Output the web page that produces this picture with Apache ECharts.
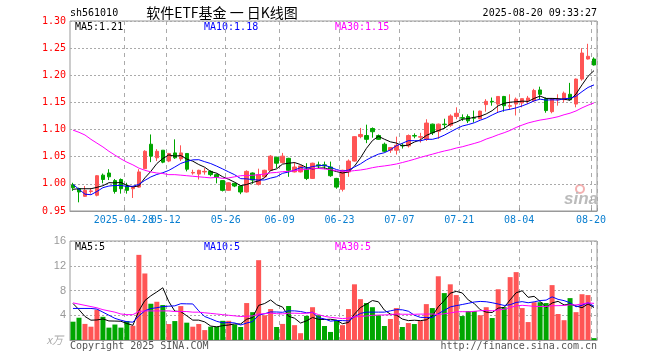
<!DOCTYPE html>
<html><head><meta charset="utf-8">
<script src="https://cdn.jsdelivr.net/npm/echarts@6/dist/echarts.min.js"></script>
<style>html,body{margin:0;padding:0;background:#fff}#c{width:660px;height:360px}</style>
</head><body><div id="c"></div>
<script>
const dates = ['2025-04-15','2025-04-16','2025-04-17','2025-04-18','2025-04-21','2025-04-22','2025-04-23','2025-04-24','2025-04-25','2025-04-28','2025-04-29','2025-04-30',
'2025-05-06','2025-05-07','2025-05-08','2025-05-09','2025-05-12','2025-05-13','2025-05-14','2025-05-15','2025-05-16','2025-05-19','2025-05-20','2025-05-21','2025-05-22','2025-05-23','2025-05-26','2025-05-27','2025-05-28','2025-05-29','2025-05-30',
'2025-06-03','2025-06-04','2025-06-05','2025-06-06','2025-06-09','2025-06-10','2025-06-11','2025-06-12','2025-06-13','2025-06-16','2025-06-17','2025-06-18','2025-06-19','2025-06-20','2025-06-23','2025-06-24','2025-06-25','2025-06-26','2025-06-27','2025-06-30',
'2025-07-01','2025-07-02','2025-07-03','2025-07-04','2025-07-07','2025-07-08','2025-07-09','2025-07-10','2025-07-11','2025-07-14','2025-07-15','2025-07-16','2025-07-17','2025-07-18','2025-07-21','2025-07-22','2025-07-23','2025-07-24','2025-07-25','2025-07-28','2025-07-29','2025-07-30','2025-07-31',
'2025-08-01','2025-08-04','2025-08-05','2025-08-06','2025-08-07','2025-08-08','2025-08-11','2025-08-12','2025-08-13','2025-08-14','2025-08-15','2025-08-18','2025-08-19','2025-08-20'];

const openP = [0.998,0.991,0.977,0.986,0.979,1.016,1.020,1.006,1.008,0.996,
0.991,0.994,1.028,1.073,1.048,1.062,1.042,1.057,1.046,1.056,
1.020,1.018,1.022,1.023,1.017,1.006,0.988,1.001,0.996,0.985,
1.020,0.999,1.013,1.025,1.049,1.039,1.047,1.022,1.022,1.027,
1.010,1.035,1.035,1.031,1.010,0.990,1.022,1.042,1.087,1.089,
1.102,1.089,1.073,1.062,1.062,1.071,1.070,1.089,1.086,1.082,
1.110,1.097,1.110,1.108,1.124,1.122,1.124,1.122,1.120,1.146,
1.152,1.147,1.161,1.143,1.147,1.149,1.153,1.153,1.173,1.157,
1.133,1.155,1.155,1.165,1.147,1.193,1.230,1.230];
const closeP = [0.993,0.985,0.988,0.987,1.015,1.008,1.013,0.986,0.991,0.988,
0.994,1.022,1.060,1.051,1.060,1.040,1.056,1.048,1.057,1.027,
1.021,1.025,1.023,1.017,1.012,0.988,1.002,0.996,0.985,1.023,
1.007,1.017,1.025,1.051,1.038,1.051,1.025,1.031,1.033,1.010,
1.038,1.033,1.033,1.015,0.994,1.025,1.042,1.087,1.091,1.082,
1.096,1.082,1.060,1.067,1.071,1.070,1.089,1.088,1.087,1.112,
1.094,1.110,1.109,1.125,1.130,1.121,1.116,1.121,1.134,1.152,
1.151,1.161,1.144,1.144,1.156,1.157,1.158,1.172,1.165,1.135,
1.157,1.156,1.167,1.155,1.193,1.241,1.235,1.219];
const lowP = [0.987,0.966,0.976,0.982,0.977,1.001,1.007,0.982,0.982,0.982,
0.974,0.993,1.027,1.040,1.042,1.038,1.040,1.046,1.042,1.023,
1.017,1.008,1.017,1.014,1.001,0.986,0.987,0.994,0.981,0.984,
1.000,0.997,1.012,1.024,1.029,1.038,1.013,1.021,1.021,1.007,
1.009,1.029,1.027,1.013,0.991,0.986,1.013,1.041,1.084,1.075,
1.085,1.081,1.058,1.057,1.054,1.065,1.067,1.084,1.076,1.079,
1.090,1.083,1.102,1.105,1.119,1.116,1.112,1.113,1.119,1.133,
1.144,1.131,1.133,1.138,1.126,1.141,1.147,1.151,1.156,1.131,
1.130,1.144,1.150,1.155,1.141,1.190,1.229,1.218];
const highP = [1.002,0.993,0.996,0.992,1.016,1.019,1.027,1.009,1.010,1.002,
0.995,1.027,1.062,1.091,1.064,1.062,1.057,1.082,1.071,1.056,
1.026,1.026,1.029,1.025,1.019,1.007,1.003,1.002,0.997,1.025,
1.021,1.028,1.026,1.053,1.050,1.057,1.048,1.040,1.034,1.038,
1.039,1.041,1.041,1.041,1.011,1.026,1.045,1.088,1.103,1.109,
1.104,1.091,1.076,1.067,1.087,1.075,1.091,1.093,1.094,1.119,
1.111,1.111,1.120,1.128,1.141,1.128,1.128,1.135,1.135,1.156,
1.159,1.161,1.162,1.165,1.159,1.157,1.162,1.175,1.179,1.159,
1.158,1.165,1.170,1.186,1.194,1.250,1.258,1.233];
const volume = [2.96,3.6,2.6,2.15,4.9,3.75,2.0,2.5,2.0,3.06,
2.3,13.76,10.75,5.86,6.18,5.65,2.58,3.06,5.48,2.8,
2.15,2.58,1.6,2.15,2.15,3.1,3.1,2.5,2.1,5.97,
4.5,12.9,4.0,5.0,2.1,2.6,5.5,2.4,1.1,3.9,
5.3,4.0,2.26,1.3,3.2,2.4,5.0,9.0,6.6,5.97,
5.3,4.0,2.26,3.4,5.16,2.1,2.74,2.58,3.06,5.8,
5.16,10.3,7.58,9.0,7.26,3.87,4.68,4.68,4.0,5.3,
3.55,8.2,5.3,10.16,10.97,5.16,2.9,6.1,6.1,5.97,
8.87,4.2,3.2,6.77,4.5,7.4,7.26,0.3];

// moving-average values for days whose window starts before the chart
const ma5Lead = [0.990,0.991,0.991,0.991];
const ma10Lead = [0.999,0.990,0.981,0.980,0.986,0.993,0.996,0.997,0.997];
const ma30Lead = [1.099,1.095,1.090,1.082,1.075,1.068,1.060,1.053,1.046,1.040,1.035,1.029,1.025,1.022,1.020,1.019,1.017,1.017,1.016,1.015,1.014,1.013,1.012,1.011,1.012,1.010,1.011,1.013,1.015];
const vma5Lead = [5.9,4.9,3.8,3.2];
const vma10Lead = [5.1,5.1,5.1,5.1,5.0,4.5,4.0,3.5,3.2];
const vma30Lead = [6.0,5.8,5.6,5.4,5.2,4.9,4.7,4.5,4.2,4.1,4.1,4.6,4.7,4.7,4.7,4.7,4.7,4.6,4.6,4.6,4.5,4.5,4.4,4.3,4.2,4.1,4.0,3.9,3.8];

const tickDates = ['2025-04-28','2025-05-12','2025-05-26','2025-06-09','2025-06-23','2025-07-07','2025-07-21','2025-08-04','2025-08-20'];
const tickLabels = ['2025-04-28','05-12','05-26','06-09','06-23','07-07','07-21','08-04','08-20'];
const priceMaLabels = ['MA5:1.21','MA10:1.18','MA30:1.15'];
const volMaLabels = ['MA5:5','MA10:5','MA30:5'];
const maColors = ['#000000','#0000ff','#ff00ff'];
const titleCode = 'sh561010';
const titleText = '软件ETF基金 一 日K线图';
const timeText = '2025-08-20 09:33:27';
const copyText = 'Copyright 2025 SINA.COM';
const urlText = 'http://finance.sina.com.cn';
const unitText = 'x万';

function movingAvg(vals, n, lead) {
  return vals.map((v, i) => {
    if (i < n - 1) return lead[i];
    let s = 0;
    for (let k = i - n + 1; k <= i; k++) s += vals[k];
    return +(s / n).toFixed(4);
  });
}

const RED = '#ff5555', GREEN = '#00a600';
const MONO = '"DejaVu Sans Mono", monospace';
const isTick = (idx, val) => tickDates.indexOf(val) >= 0;
// labels split over two axes so that the overlapping first two are both drawn
const isLabelA = (idx, val) => { const k = tickDates.indexOf(val); return k >= 0 && k % 2 === 0; };
const isLabelB = (idx, val) => { const k = tickDates.indexOf(val); return k >= 0 && k % 2 === 1; };
const labelFmt = v => tickLabels[tickDates.indexOf(v)] || '';
const labelStyle = (fn) => ({interval: fn, hideOverlap: false, formatter: labelFmt,
  color: '#0a7fd0', fontFamily: MONO, fontSize: 10, margin: 4, padding: [0, 6, 0, 0]});

const chart = echarts.init(document.getElementById('c'), null, {renderer: 'canvas'});
const lineS = (name, data, color, xi, yi) => ({
  name, type: 'line', data, xAxisIndex: xi, yAxisIndex: yi, showSymbol: false, symbol: 'none',
  lineStyle: {color, width: 1}, itemStyle: {color}, silent: true, z: 5
});

const txt = (text, x, y, fill, font, align) => ({
  type: 'text', x, y, silent: true,
  style: {text, fill, font, textAlign: align || 'left', verticalAlign: 'middle'}
});

chart.setOption({
  animation: false,
  backgroundColor: '#fff',
  grid: [
    {left: 70, top: 21, width: 527, height: 190, show: true, borderColor: '#999', borderWidth: 1},
    {left: 70, top: 241, width: 527, height: 99, show: true, borderColor: '#999', borderWidth: 1}
  ],
  xAxis: [
    {type: 'category', gridIndex: 0, data: dates, boundaryGap: true, position: 'bottom',
     axisLine: {show: true, lineStyle: {color: '#999'}},
     axisTick: {show: true, inside: true, length: 3, interval: isTick, lineStyle: {color: '#999'}},
     axisLabel: labelStyle(isLabelA),
     splitLine: {show: true, interval: isTick, lineStyle: {color: '#aaa', type: [4, 4]}}},
    {type: 'category', gridIndex: 0, data: dates, boundaryGap: true, position: 'bottom', offset: 0,
     axisLine: {show: false}, axisTick: {show: false},
     axisLabel: labelStyle(isLabelB), splitLine: {show: false}},
    {type: 'category', gridIndex: 1, data: dates, boundaryGap: true,
     axisLine: {show: true, lineStyle: {color: '#999'}},
     axisTick: {show: false}, axisLabel: {show: false},
     splitLine: {show: true, interval: isTick, lineStyle: {color: '#aaa', type: [4, 4]}}}
  ],
  yAxis: [
    {type: 'value', gridIndex: 0, min: 0.95, max: 1.30, interval: 0.05, scale: true,
     axisLine: {show: false}, axisTick: {show: false},
     axisLabel: {color: '#ff0000', fontFamily: MONO, fontSize: 10, margin: 4, formatter: v => v.toFixed(2)},
     splitLine: {show: true, lineStyle: {color: '#aaa', type: [2, 2]}}},
    {type: 'value', gridIndex: 1, min: 0, max: 16, interval: 4,
     axisLine: {show: false}, axisTick: {show: false},
     axisLabel: {color: '#999', fontFamily: '"Liberation Sans", sans-serif', fontSize: 11, margin: 4,
       formatter: v => v === 0 ? '' : String(v)},
     splitLine: {show: true, lineStyle: {color: '#aaa', type: [2, 2]}}}
  ],
  series: [
    {type: 'candlestick', xAxisIndex: 0, yAxisIndex: 0, barWidth: 4,
     data: dates.map((d, i) => [openP[i], closeP[i], lowP[i], highP[i]]),
     itemStyle: {color: RED, color0: GREEN, borderColor: RED, borderColor0: GREEN, borderWidth: 1}, z: 3},
    lineS('MA5', movingAvg(closeP, 5, ma5Lead), maColors[0], 0, 0),
    lineS('MA10', movingAvg(closeP, 10, ma10Lead), maColors[1], 0, 0),
    lineS('MA30', movingAvg(closeP, 30, ma30Lead), maColors[2], 0, 0),
    {type: 'bar', xAxisIndex: 2, yAxisIndex: 1, barWidth: 5, data: volume,
     itemStyle: {color: p => closeP[p.dataIndex] >= openP[p.dataIndex] ? RED : GREEN}, z: 3},
    lineS('VMA5', movingAvg(volume, 5, vma5Lead), maColors[0], 2, 1),
    lineS('VMA10', movingAvg(volume, 10, vma10Lead), maColors[1], 2, 1),
    lineS('VMA30', movingAvg(volume, 30, vma30Lead), maColors[2], 2, 1)
  ],
  graphic: [
    txt(titleCode, 70, 13, '#000', '10px ' + MONO),
    txt(titleText, 222, 13, '#000', '14px "Noto Sans CJK SC"', 'center'),
    txt(timeText, 597, 13, '#000', '10px ' + MONO, 'right'),
    txt(priceMaLabels[0], 75, 27, maColors[0], '10px ' + MONO),
    txt(priceMaLabels[1], 204, 27, maColors[1], '10px ' + MONO),
    txt(priceMaLabels[2], 335, 27, maColors[2], '10px ' + MONO),
    txt(volMaLabels[0], 75, 247, maColors[0], '10px ' + MONO),
    txt(volMaLabels[1], 204, 247, maColors[1], '10px ' + MONO),
    txt(volMaLabels[2], 335, 247, maColors[2], '10px ' + MONO),
    txt(unitText, 63, 340, '#aaa', 'italic 11px "Noto Sans CJK SC"', 'right'),
    txt(copyText, 70, 346, '#555', '10px ' + MONO),
    txt(urlText, 597, 346, '#555', '10px ' + MONO, 'right'),
    {type: 'circle', shape: {cx: 580, cy: 189, r: 4}, silent: true,
     style: {fill: 'none', stroke: '#f3b0b0', lineWidth: 2}},
    txt('sina', 581, 199, '#bbbbbb', 'italic bold 17px "Liberation Sans"', 'center')
  ]
});
</script></body></html>
